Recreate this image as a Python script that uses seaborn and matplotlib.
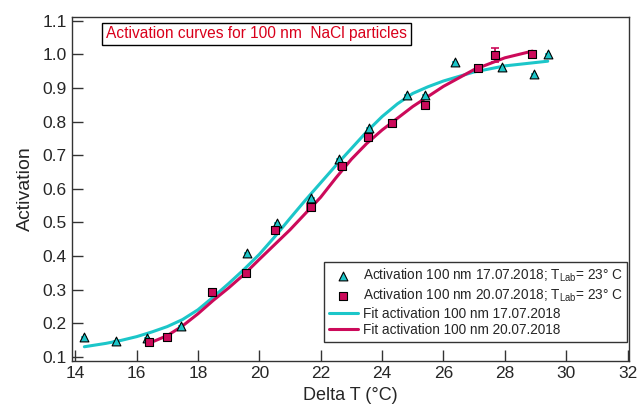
import numpy as np
import pandas as pd
import seaborn as sns
import matplotlib.pyplot as plt

# measured activation, 17.07.2018
x_17 = [14.3, 15.34, 16.35, 17.46, 19.6, 20.59, 21.7, 22.6, 23.59, 24.8, 25.39, 26.37, 27.9, 28.94, 29.4]
y_17 = [0.16, 0.147, 0.155, 0.192, 0.41, 0.499, 0.573, 0.688, 0.78, 0.88, 0.88, 0.978, 0.963, 0.942, 1.002]
yerr_17 = [0.008] * len(x_17)

# measured activation, 20.07.2018
x_20 = [16.41, 17.0, 18.47, 19.58, 20.5, 21.67, 22.68, 23.53, 24.34, 25.39, 27.12, 27.67, 28.9]
y_20 = [0.145, 0.16, 0.294, 0.35, 0.478, 0.545, 0.668, 0.755, 0.796, 0.85, 0.96, 0.999, 1.0]
yerr_20 = [0.008, 0.008, 0.008, 0.008, 0.008, 0.008, 0.008, 0.008, 0.008, 0.008, 0.006, 0.02, 0.01]

# fit curves
fit_x_17 = [14.3, 15.0, 15.5, 16.0, 16.5, 17.0, 17.5, 18.0, 18.5, 19.0, 19.5, 20.0, 20.5, 21.0, 21.5, 22.0,
            22.5, 23.0, 23.5, 24.0, 24.5, 25.0, 25.5, 26.0, 27.0, 28.0, 29.4]
fit_y_17 = [0.13, 0.14, 0.149, 0.16, 0.174, 0.19, 0.211, 0.24, 0.278, 0.318, 0.36, 0.405, 0.457, 0.512, 0.566, 0.618,
            0.67, 0.72, 0.77, 0.815, 0.853, 0.884, 0.904, 0.921, 0.948, 0.966, 0.98]
fit_x_20 = [16.45, 17.0, 17.5, 18.0, 18.5, 19.0, 19.5, 20.0, 21.0, 22.0, 22.5, 23.0, 23.5, 24.0, 25.0,
            26.0, 27.0, 28.0, 28.9]
fit_y_20 = [0.142, 0.163, 0.192, 0.228, 0.268, 0.305, 0.345, 0.39, 0.478, 0.575, 0.633, 0.688, 0.735, 0.775, 0.845,
            0.905, 0.955, 0.99, 1.01]

x_ticks = [14, 16, 18, 20, 22, 24, 26, 28, 30, 32]
y_ticks = [0.1, 0.2, 0.3, 0.4, 0.5, 0.6, 0.7, 0.8, 0.9, 1.0, 1.1]

cyan = "#1cc6c9"
crimson = "#cc0a5a"

sns.set_style("ticks")
plt.rcParams['font.family'] = ['Liberation Sans', 'DejaVu Sans']
plt.rcParams['mathtext.fontset'] = 'custom'
plt.rcParams['mathtext.rm'] = 'Liberation Sans'
plt.rcParams['mathtext.it'] = 'Liberation Sans:italic'

fig = plt.figure(figsize=(6.38, 4.11), dpi=100)
ax = fig.add_axes([0.113, 0.122, 0.873, 0.837])

df_fit17 = pd.DataFrame({'x': fit_x_17, 'y': fit_y_17})
df_fit20 = pd.DataFrame({'x': fit_x_20, 'y': fit_y_20})
df17 = pd.DataFrame({'x': x_17, 'y': y_17})
df20 = pd.DataFrame({'x': x_20, 'y': y_20})

sns.lineplot(data=df_fit17, x='x', y='y', ax=ax, color=cyan, lw=2.2, sort=False,
             label="Fit activation 100 nm 17.07.2018", zorder=2)
sns.lineplot(data=df_fit20, x='x', y='y', ax=ax, color=crimson, lw=2.2, sort=False,
             label="Fit activation 100 nm 20.07.2018", zorder=2)

ax.errorbar(x_17, y_17, yerr=yerr_17, xerr=0.1, fmt='none', ecolor=cyan, elinewidth=1.3, zorder=3)
ax.errorbar(x_20, y_20, yerr=yerr_20, xerr=0.1, fmt='none', ecolor=crimson, elinewidth=1.3,
            capsize=3, capthick=1.2, zorder=3)

sns.scatterplot(data=df17, x='x', y='y', ax=ax, marker='^', s=40, color=cyan, edgecolor='black',
                linewidth=0.8, zorder=4, label=r"Activation 100 nm 17.07.2018; T$_{\mathrm{Lab}}$= 23° C")
sns.scatterplot(data=df20, x='x', y='y', ax=ax, marker='s', s=34, color=crimson, edgecolor='black',
                linewidth=0.8, zorder=4, label=r"Activation 100 nm 20.07.2018; T$_{\mathrm{Lab}}$= 23° C")

ax.set_xlim(13.9, 32.05)
ax.set_ylim(0.088, 1.112)
ax.set_xticks(x_ticks)
ax.set_yticks(y_ticks)
ax.set_yticklabels([f"{v:.1f}" for v in y_ticks])
ax.tick_params(direction='in', length=8, width=1, color='#333333', labelsize=12.5, pad=4)
for sp in ax.spines.values():
    sp.set_color('#333333')
    sp.set_linewidth(1)
ax.set_xlabel("Delta T (°C)", fontsize=13)
ax.set_ylabel("Activation", fontsize=14, labelpad=6)

handles, labels = ax.get_legend_handles_labels()
order = [2, 3, 0, 1]
leg = ax.legend([handles[i] for i in order], [labels[i] for i in order], loc='lower right',
                bbox_to_anchor=(0.997, 0.055), fontsize=9.8, frameon=True, fancybox=False,
                edgecolor='black', handlelength=2.1, handletextpad=0.35, borderpad=0.35,
                labelspacing=0.18, borderaxespad=0.0)
leg.get_frame().set_linewidth(1)

ax.text(0.061, 0.972, "Activation curves for 100 nm  NaCl particles", transform=ax.transAxes,
        color='#d9001b', fontsize=11.2, va='top', ha='left',
        bbox=dict(boxstyle='square,pad=0.25', fc='white', ec='black', lw=1))

fig.savefig("out.png", dpi=100)
